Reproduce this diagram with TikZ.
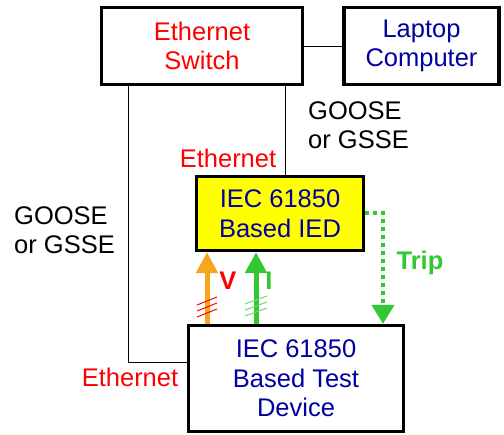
\documentclass[tikz,border=0pt]{standalone}
\usepackage{fontspec}
\setmainfont{Liberation Sans}
\usetikzlibrary{arrows.meta}
\definecolor{tred}{RGB}{255,0,0}
\definecolor{tblue}{RGB}{0,0,160}
\definecolor{tgreen}{RGB}{50,200,50}
\definecolor{tlgreen}{RGB}{110,220,110}
\definecolor{torange}{RGB}{245,165,30}
\definecolor{tyellow}{RGB}{255,255,0}
\tikzset{
  txt/.style={font=\fontsize{25.5}{29.5}\selectfont, inner sep=0pt, align=center},
  boldtxt/.style={txt, font=\fontsize{25.5}{29.5}\selectfont\bfseries},
  box/.style={txt, draw=black, line width=3.2pt},
  link/.style={draw=black, line width=0.8pt},
  sigarrow/.style={line width=5pt, -{Triangle[width=21pt,length=21pt]}},
  triparrow/.style={tgreen, line width=4pt, dash pattern=on 4pt off 4pt, -{Triangle[width=22pt,length=19pt]}},
  hash/.style={line width=1pt},
}
\begin{document}
\begin{tikzpicture}[x=1pt,y=-1pt]
\useasboundingbox (0,0) rectangle (504,435);
% boxes
\node[box, text=tred, minimum width=201pt, minimum height=77pt] (switch) at (202,46) {Ethernet\\Switch};
\node[box, text=tblue, minimum width=155pt, minimum height=77pt] (laptop) at (421.5,46) {Laptop\\Computer};
\node[box, text=tblue, fill=tyellow, minimum width=167pt, minimum height=74pt] (ied) at (280,213.5) {IEC 61850\\Based IED};
\node[box, text=tblue, fill=white, minimum width=215pt, minimum height=106pt] (test) at (296,378.5) {IEC 61850\\Based Test\\Device};
% connector helpers
\coordinate (c1) at (128,362);
\coordinate (c2) at (285,0);
\coordinate (cv) at (207,0);
\coordinate (ci) at (256,0);
\coordinate (ct) at (383,213);
% connectors
\draw[link] (switch) -- (laptop);
\draw[link] (switch.south -| c1) |- (test.west |- c1);
\draw[link] (switch.south -| c2) -- (ied.north -| c2);
\draw[sigarrow, torange] (test.north -| cv) -- (ied.south -| cv);
\draw[sigarrow, tgreen] (test.north -| ci) -- (ied.south -| ci);
\draw[triparrow] (ied.east |- ct) -| (test.north -| ct);
% hash marks
\foreach \d in {0,6,12} {
  \draw[hash, tred] (197,317-\d) -- (217,309-\d);
  \draw[hash, tlgreen] (245,316-\d) -- (267,308-\d);
}
% labels
\node[txt, text=tred] (eth1) at (228,158) {Ethernet};
\node[txt, text=tred] (eth2) at (130,377) {Ethernet};
\node[txt, anchor=west, align=left] (goose1) at (308,125) {GOOSE\\or GSSE};
\node[txt, anchor=west, align=left] (goose2) at (14,230) {GOOSE\\or GSSE};
\node[boldtxt, text=tgreen] (trip) at (420,263) {Trip};
\node[boldtxt, text=tred] (vlab) at (228,281) {V};
\node[boldtxt, text=tgreen] (ilab) at (269,281) {I};
\end{tikzpicture}
\end{document}
